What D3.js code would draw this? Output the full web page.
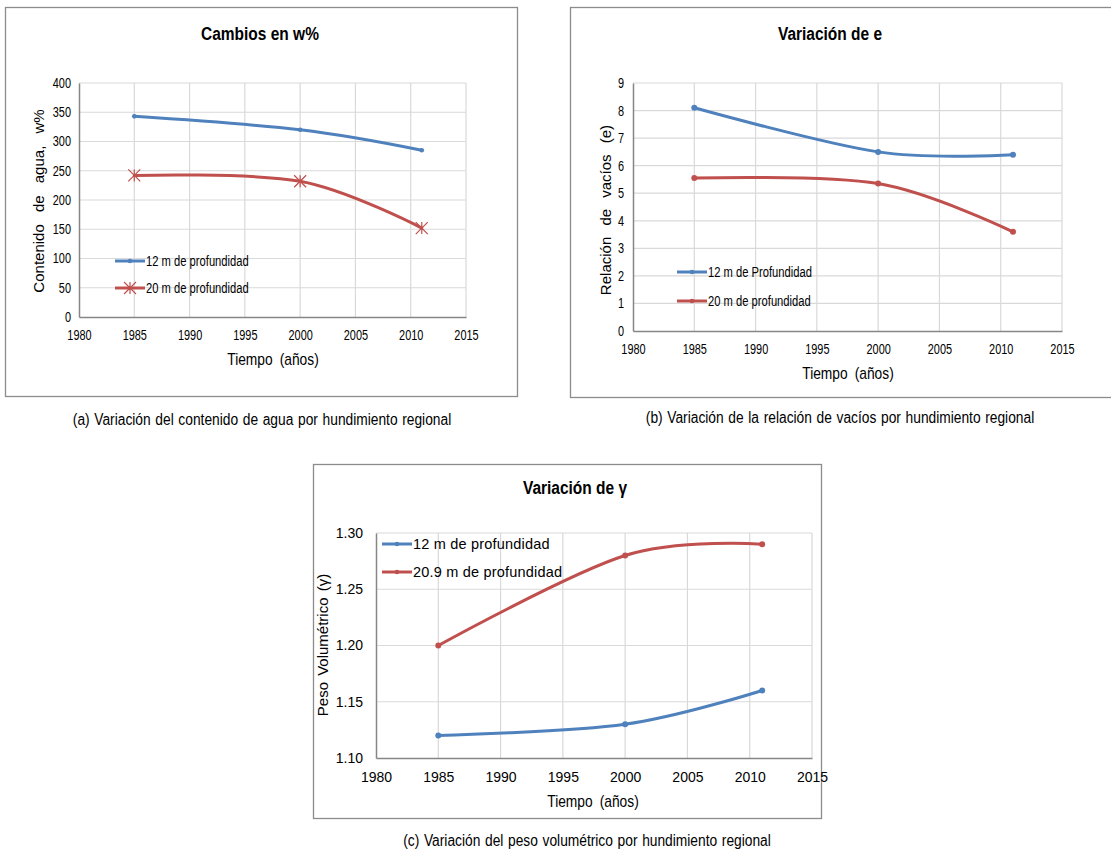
<!DOCTYPE html>
<html>
<head>
<meta charset="utf-8">
<script src="https://cdn.jsdelivr.net/npm/d3@7"></script>
<style>
  body { margin:0; background:#fff; }
  svg { display:block; }
  .narrow { font-family:"Liberation Sans Narrow","Arial Narrow","Liberation Sans",sans-serif; }
  .reg { font-family:"Liberation Sans",Arial,sans-serif; }
</style>
</head>
<body>
<script>
// shared x values (years)
const years = [1985, 2000, 2011]

// (a) water content w%
const wBlue = [343, 320, 285]
const wRed = [242, 232, 152]
// (b) void ratio e
const eBlue = [8.1, 6.5, 6.4]
const eRed = [5.55, 5.35, 3.6]
// (c) unit weight
const gBlue = [1.12, 1.13, 1.16]
const gRed = [1.20, 1.28, 1.29]

const xTicks = [1980, 1985, 1990, 1995, 2000, 2005, 2010, 2015]
const wTicks = [0, 50, 100, 150, 200, 250, 300, 350, 400]
const eTicks = [0, 1, 2, 3, 4, 5, 6, 7, 8, 9]
const gTicks = [1.10, 1.15, 1.20, 1.25, 1.30]

const BLUE = '#4f81bd', RED = '#c0504d'

const svg = d3.select('body').append('svg').attr('width', 1111).attr('height', 850)

function marker(g, type, x, y, color){
  if(type == 'star'){
    const s = 6
    g.append('path')
      .attr('d', `M${x-s},${y-s}L${x+s},${y+s}M${x-s},${y+s}L${x+s},${y-s}M${x},${y-s}L${x},${y+s}`)
      .attr('stroke', color).attr('stroke-width', 1.2).attr('fill', 'none')
  } else {
    g.append('circle').attr('cx', x).attr('cy', y).attr('r', type == 'small' ? 2.3 : 3).attr('fill', color)
  }
}

// no condensed font installed: squeeze glyphs horizontally instead
function squeeze(sel, k){
  sel.each(function(){
    const w = this.getComputedTextLength()
    d3.select(this).attr('textLength', w*k).attr('lengthAdjust', 'spacingAndGlyphs')
  })
  return sel
}

function chart(c){
  const g = svg.append('g')
  // panel frame
  g.append('rect').attr('x', c.box[0]+0.5).attr('y', c.box[1]+0.5)
    .attr('width', c.box[2]-c.box[0]).attr('height', c.box[3]-c.box[1])
    .attr('fill', 'none').attr('stroke', '#8c8c8c').attr('stroke-width', 1.3)

  const x = d3.scaleLinear().domain([1980, 2015]).range([c.plot[0], c.plot[1]])
  const y = d3.scaleLinear().domain(c.yDomain).range([c.plot[3], c.plot[2]])

  // gridlines
  const grid = g.append('g').attr('stroke', '#d9d9d9').attr('stroke-width', 1.2)
  grid.selectAll('.gx').data(xTicks.slice(1)).enter().append('line')
    .attr('x1', d => x(d)).attr('x2', d => x(d)).attr('y1', c.plot[2]).attr('y2', c.plot[3])
  grid.selectAll('.gy').data(c.yTicks.slice(1)).enter().append('line')
    .attr('y1', d => y(d)).attr('y2', d => y(d)).attr('x1', c.plot[0]).attr('x2', c.plot[1])

  // axes
  const xa = g.append('g').attr('transform', `translate(0,${c.plot[3]})`)
    .call(d3.axisBottom(x).tickValues(xTicks).tickFormat(d3.format('d')).tickSize(0).tickPadding(c.xPad))
  const ya = g.append('g').attr('transform', `translate(${c.plot[0]},0)`)
    .call(d3.axisLeft(y).tickValues(c.yTicks).tickFormat(c.yFmt).tickSize(0).tickPadding(c.yPad))
  ;[xa, ya].forEach(a => {
    a.attr('font-family', null).attr('font-size', null)
    a.select('.domain').attr('stroke', '#868686').attr('stroke-width', 1.5)
    a.selectAll('text').attr('class', c.tickClass).attr('font-size', c.tickSize).attr('fill', '#000')
    if(c.tickK) squeeze(a.selectAll('text'), c.tickK)
  })

  // series
  const line = d3.line().x(d => x(d[0])).y(d => y(d[1])).curve(d3.curveCardinal.tension(0))
  c.series.forEach(s => {
    const pts = years.map((yr, i) => [yr, s.values[i]])
    g.append('path').attr('d', line(pts)).attr('fill', 'none')
      .attr('stroke', s.color).attr('stroke-width', 3).attr('stroke-linecap', 'round')
    pts.forEach(p => marker(g, s.marker, x(p[0]), y(p[1]), s.color))
  })

  // legend
  c.series.forEach((s, i) => {
    const ly = c.legend.y[i]
    g.append('line').attr('x1', c.legend.x).attr('x2', c.legend.x+30).attr('y1', ly).attr('y2', ly)
      .attr('stroke', s.color).attr('stroke-width', 3)
    marker(g, s.marker == 'star' ? 'star' : 'small', c.legend.x+15, ly, s.color)
    const t = g.append('text').attr('class', c.legend.cls).attr('x', c.legend.x+31).attr('y', ly+c.legend.size*0.36)
      .attr('font-size', c.legend.size).attr('letter-spacing', c.legend.ls || 0).text(s.name)
    if(c.legend.k) squeeze(t, c.legend.k)
  })

  // titles
  squeeze(g.append('text').attr('class', 'narrow').attr('x', c.title[0]).attr('y', c.title[1])
    .attr('text-anchor', 'middle').attr('font-size', 18).attr('font-weight', 'bold').text(c.title[2]), 0.86)
  squeeze(g.append('text').attr('class', 'narrow').attr('x', c.xTitle[0]).attr('y', c.xTitle[1])
    .attr('text-anchor', 'middle').attr('font-size', 17).attr('word-spacing', 4).text('Tiempo (años)'), 0.81)
  g.append('text').attr('class', c.yTitle[4]).attr('transform', `translate(${c.yTitle[0]},${c.yTitle[1]}) rotate(-90)`)
    .attr('text-anchor', 'middle').attr('font-size', c.yTitle[3]).attr('word-spacing', c.yTitle[5]).text(c.yTitle[2])
  squeeze(svg.append('text').attr('class', 'narrow').attr('x', c.caption[0]).attr('y', c.caption[1])
    .attr('text-anchor', 'middle').attr('font-size', 16).attr('word-spacing', 1).text(c.caption[2]), 0.86)
}

chart({
  box:[5, 7, 517, 396], plot:[79, 466, 83, 317],
  yDomain:[0, 400], yTicks:wTicks, yFmt:d3.format('d'),
  tickClass:'narrow', tickSize:14, tickK:0.78, xPad:13, yPad:8,
  series:[
    {name:'12 m de profundidad', values:wBlue, color:BLUE, marker:'small'},
    {name:'20 m de profundidad', values:wRed, color:RED, marker:'star'}
  ],
  legend:{x:115, y:[261, 288], size:14, cls:'narrow', k:0.8},
  title:[260, 40, 'Cambios en w%'],
  xTitle:[273, 365],
  yTitle:[44, 201, 'Contenido de agua, w%', 15, 'reg', 8],
  caption:[262, 425, '(a) Variación del contenido de agua por hundimiento regional']
})

chart({
  box:[570, 7, 1116, 397], plot:[633, 1062, 83, 331],
  yDomain:[0, 9], yTicks:eTicks, yFmt:d3.format('d'),
  tickClass:'narrow', tickSize:14, tickK:0.78, xPad:13, yPad:9,
  series:[
    {name:'12 m de Profundidad', values:eBlue, color:BLUE, marker:'dot'},
    {name:'20 m de profundidad', values:eRed, color:RED, marker:'dot'}
  ],
  legend:{x:677, y:[272, 301], size:14, cls:'narrow', k:0.8},
  title:[830, 40, 'Variación de e'],
  xTitle:[848, 379],
  yTitle:[611, 210, 'Relación de vacíos (e)', 15, 'reg', 7],
  caption:[840, 423, '(b) Variación de la relación de vacíos por hundimiento regional']
})

chart({
  box:[313, 464, 821, 818], plot:[376, 812, 533, 758],
  yDomain:[1.10, 1.30], yTicks:gTicks, yFmt:d3.format('.2f'),
  tickClass:'reg', tickSize:14, xPad:14, yPad:13,
  series:[
    {name:'12 m de profundidad', values:gBlue, color:BLUE, marker:'dot'},
    {name:'20.9 m de profundidad', values:gRed, color:RED, marker:'dot'}
  ],
  legend:{x:382, y:[544, 572], size:14.5, cls:'reg', ls:0.2},
  title:[575, 494, 'Variación de γ'],
  xTitle:[593, 807],
  yTitle:[328, 645, 'Peso Volumétrico (γ)', 15, 'reg', 2],
  caption:[587, 846, '(c) Variación del peso volumétrico por hundimiento regional']
})
</script>
</body>
</html>
